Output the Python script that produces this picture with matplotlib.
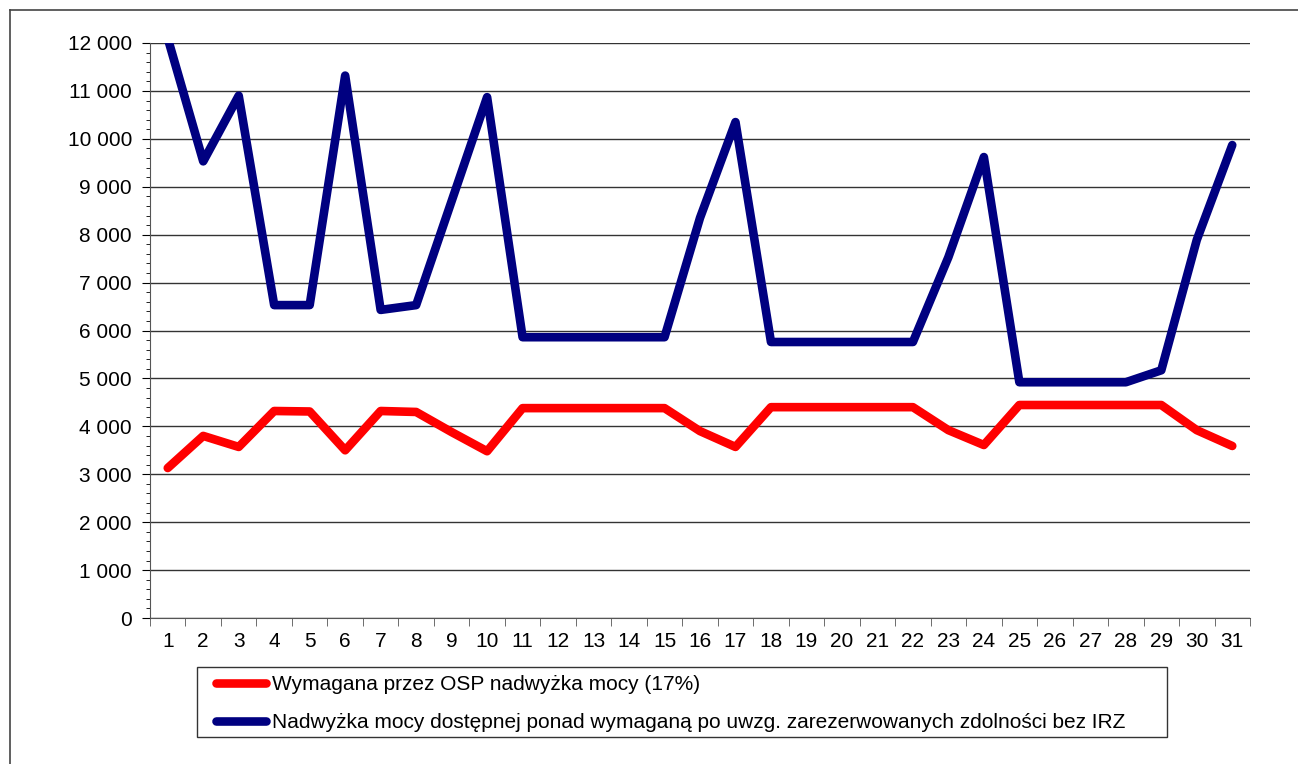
import matplotlib.pyplot as plt
from matplotlib.lines import Line2D
from matplotlib.patches import Rectangle
from matplotlib.ticker import MultipleLocator, FuncFormatter

plt.rcParams['font.family'] = ['Liberation Sans', 'DejaVu Sans']

days = list(range(1, 32))

wymagana = [3130, 3800, 3570, 4320, 4310, 3500, 4320, 4300, 3880, 3480,
            4380, 4380, 4380, 4380, 4380, 3900, 3570, 4400, 4400, 4400,
            4400, 4400, 3920, 3610, 4445, 4445, 4445, 4445, 4445, 3920, 3590]

nadwyzka = [12100, 9530, 10900, 6530, 6530, 11320, 6430, 6530, 8700, 10870,
            5860, 5860, 5860, 5860, 5860, 8350, 10350, 5760, 5760, 5760,
            5760, 5760, 7530, 9620, 4920, 4920, 4920, 4920, 5170, 7890, 9870]

labels = ["Wymagana przez OSP nadwyżka mocy (17%)",
          "Nadwyżka mocy dostępnej ponad wymaganą po uwzg. zarezerwowanych zdolności bez IRZ"]

W, H = 1298, 764
fig = plt.figure(figsize=(W / 100, H / 100), dpi=100)
ax = fig.add_axes([150/W, 146/H, 1100/W, 575/H])

ax.plot(days, wymagana, color="#ff0000", lw=6.2, solid_joinstyle="round",
        solid_capstyle="round", label=labels[0], zorder=3)
ax.plot(days, nadwyzka, color="#000080", lw=6.2, solid_joinstyle="round",
        solid_capstyle="round", label=labels[1], zorder=3)

ax.set_xlim(0.5, 31.5)
ax.set_ylim(0, 12000)
ax.set_xticks(days)
ax.set_xticks([d + 0.5 for d in range(0, 32)], minor=True)
ax.tick_params(axis="x", which="major", length=0, labelsize=15, pad=10)
ax.tick_params(axis="x", which="minor", length=6, direction="out", color="#555555")
ax.yaxis.set_major_locator(MultipleLocator(1000))
ax.yaxis.set_minor_locator(MultipleLocator(200))
ax.yaxis.set_major_formatter(FuncFormatter(lambda v, p: f"{int(v):,}".replace(",", " ")))
ax.tick_params(axis="y", which="major", length=6, direction="out", labelsize=15, pad=7)
ax.tick_params(axis="y", which="minor", length=3, direction="out")

ax.grid(axis="y", color="#333333", lw=1)
ax.set_axisbelow(True)
ax.spines["top"].set_visible(False)
ax.spines["right"].set_visible(False)
ax.spines["bottom"].set_color("#555555")
ax.spines["left"].set_color("#555555")

# legend frame drawn separately, entries placed inside it
fig.add_artist(Rectangle((197/W, 27/H), 970/W, 70/H, transform=fig.transFigure,
                         facecolor="white", edgecolor="#333333", lw=1, zorder=4))
leg = fig.legend(loc="upper left", bbox_to_anchor=(216/W, 1 - 675/H),
                 fontsize=15, frameon=False, handlelength=2.4, handletextpad=0.3,
                 borderaxespad=0, borderpad=0, labelspacing=0.91)
leg.set_zorder(5)

fig.add_artist(Line2D([10/W, 10/W], [0, 1 - 10/H], transform=fig.transFigure,
                      color="#444444", lw=1.2))
fig.add_artist(Line2D([10/W, 1], [1 - 10/H, 1 - 10/H], transform=fig.transFigure,
                      color="#444444", lw=1.2))

fig.savefig("out.png", dpi=100)
